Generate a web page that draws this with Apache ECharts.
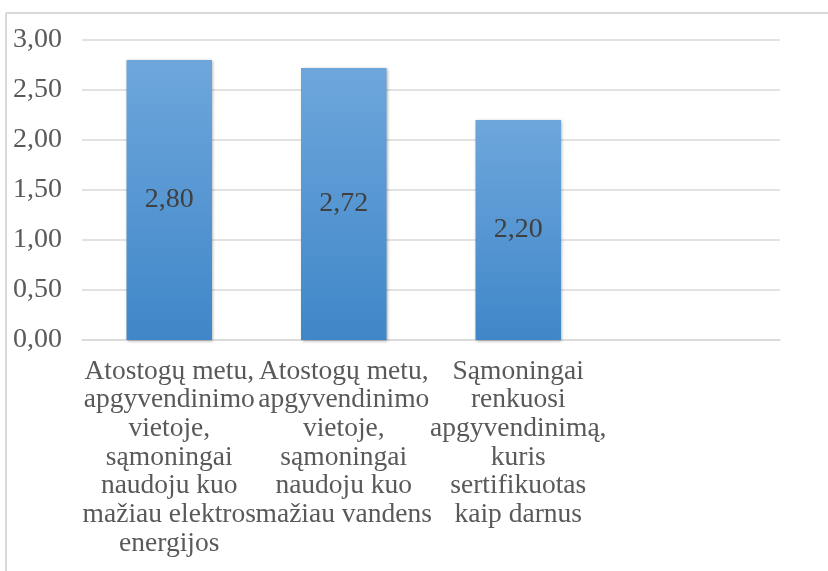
<!DOCTYPE html>
<html>
<head>
<meta charset="utf-8">
<script src="https://cdn.jsdelivr.net/npm/echarts@6/dist/echarts.min.js"></script>
<style>
html,body{margin:0;padding:0;background:#fff;}
#chart{width:828px;height:571px;}
</style>
</head>
<body>
<div id="chart"></div>
<script>
var categories = [
  'Atostogų metu,\napgyvendinimo\nvietoje,\nsąmoningai\nnaudoju kuo\nmažiau elektros\nenergijos',
  'Atostogų metu,\napgyvendinimo\nvietoje,\nsąmoningai\nnaudoju kuo\nmažiau vandens',
  'Sąmoningai\nrenkuosi\napgyvendinimą,\nkuris\nsertifikuotas\nkaip darnus',
  ''
];
var values = [2.80, 2.72, 2.20, null];
var yMin = 0, yMax = 3, yStep = 0.5;

var FONT = 'Liberation Serif';
function fmt(v){ return Number(v).toFixed(2).replace('.', ','); }

var chart = echarts.init(document.getElementById('chart'));
chart.setOption({
  backgroundColor:'#ffffff',
  graphic:[
    {type:'line', shape:{x1:6,y1:13,x2:828,y2:13}, style:{stroke:'#d9d9d9', lineWidth:2}},
    {type:'line', shape:{x1:6,y1:13,x2:6,y2:571}, style:{stroke:'#d9d9d9', lineWidth:2}}
  ],
  grid:{left:82, right:48, top:40, bottom:231},
  xAxis:{
    type:'category',
    data:categories,
    axisTick:{show:false},
    axisLine:{lineStyle:{color:'#d9d9d9', width:1.5}},
    axisLabel:{
      interval:0,
      color:'#595959',
      fontFamily:FONT,
      fontSize:27.5,
      lineHeight:28.7,
      margin:17
    }
  },
  yAxis:{
    type:'value',
    min:yMin, max:yMax, interval:yStep,
    axisLine:{show:false},
    axisTick:{show:false},
    splitLine:{lineStyle:{color:'#d9d9d9', width:1.5}},
    axisLabel:{
      color:'#595959',
      fontFamily:FONT,
      fontSize:28,
      margin:20,
      formatter:fmt
    }
  },
  series:[{
    type:'bar',
    data:values,
    barWidth:'49%',
    animation:false,
    itemStyle:{
      color:new echarts.graphic.LinearGradient(0,0,0,1,[
        {offset:0, color:'#6ea6dc'},
        {offset:1, color:'#3f87c8'}
      ]),
      shadowColor:'rgba(0,0,0,0.35)',
      shadowBlur:3,
      shadowOffsetX:1,
      shadowOffsetY:1
    },
    label:{
      show:true,
      position:'inside',
      color:'#404040',
      fontFamily:FONT,
      fontSize:28,
      formatter:function(p){ return fmt(p.value); }
    }
  }]
});
</script>
</body>
</html>
